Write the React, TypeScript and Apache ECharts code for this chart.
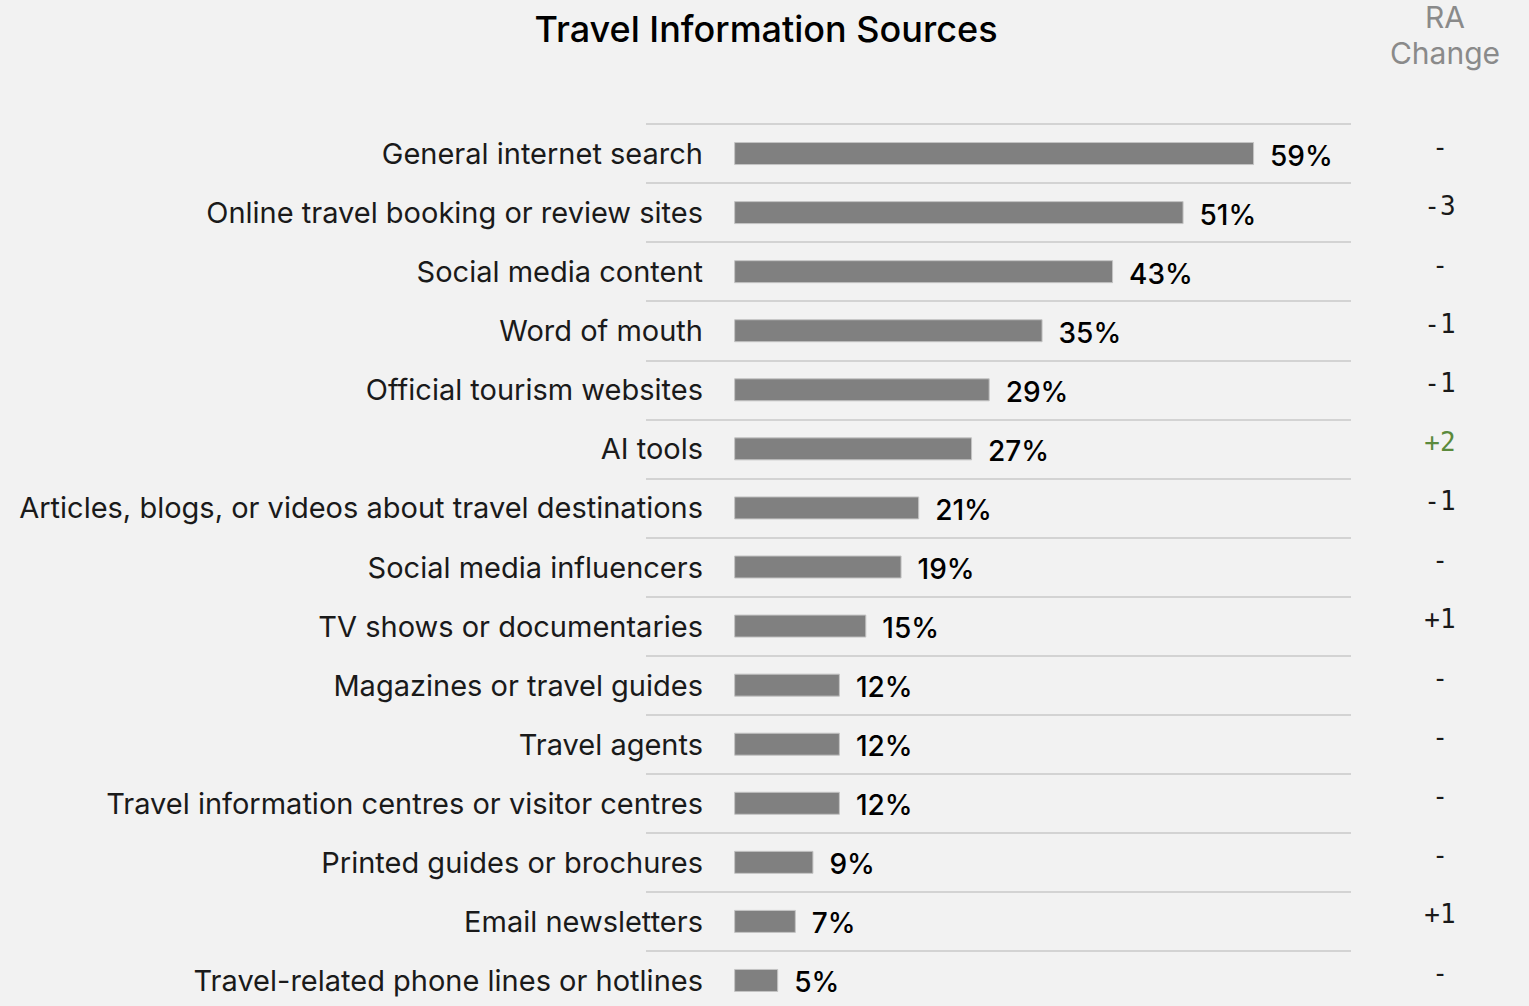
import React, { useEffect, useRef } from "react";
import * as echarts from "echarts";

const categories = [
  "General internet search",
  "Online travel booking or review sites",
  "Social media content",
  "Word of mouth",
  "Official tourism websites",
  "AI tools",
  "Articles, blogs, or videos about travel destinations",
  "Social media influencers",
  "TV shows or documentaries",
  "Magazines or travel guides",
  "Travel agents",
  "Travel information centres or visitor centres",
  "Printed guides or brochures",
  "Email newsletters",
  "Travel-related phone lines or hotlines",
];
const shares = [59, 51, 43, 35, 29, 27, 21, 19, 15, 12, 12, 12, 9, 7, 5];
const raChange = ["-", "-3", "-", "-1", "-1", "+2", "-1", "-", "+1", "-", "-", "-", "-", "+1", "-"];
const titleText = "Travel Information Sources";
const raHeader = "RA\nChange";

export default function App() {
  const ref = useRef<HTMLDivElement>(null);
  useEffect(() => {
    if (!ref.current) return;
    const chart = echarts.init(ref.current, undefined, { renderer: "svg" });
    const font = "Inter";
    chart.setOption({
      animation: false,
      backgroundColor: "#f2f2f2",
      title: [
        {
          text: titleText,
          left: 761,
          top: 6,
          textAlign: "center",
          textStyle: { fontFamily: font, fontSize: 36, fontWeight: 500, color: "#000" },
        },
        {
          text: raHeader,
          left: 1440,
          top: -6,
          textAlign: "center",
          textStyle: { fontFamily: font, fontSize: 30, fontWeight: 400, color: "#8a8a8a", lineHeight: 36 },
        },
      ],
      grid: { left: 646, top: 124, width: 705, height: 886, outerBoundsMode: "none", containLabel: false },
      xAxis: {
        type: "value",
        min: -10,
        max: 70,
        show: false,
        splitLine: { show: false },
      },
      yAxis: [
        {
          type: "category",
          data: categories,
          inverse: true,
          axisLine: { show: false, onZero: false },
          axisTick: { show: false },
          splitLine: { show: true, lineStyle: { color: "#d3d3d3", width: 2 } },
          axisLabel: {
            fontFamily: font,
            fontSize: 29,
            color: "#1a1a1a",
            margin: -57,
          },
        },
        {
          type: "category",
          data: raChange,
          inverse: true,
          position: "right",
          axisLine: { show: false, onZero: false },
          axisTick: { show: false },
          splitLine: { show: false },
          axisLabel: {
            fontFamily: "DejaVu Sans Mono",
            fontSize: 26,
            align: "center",
            margin: 89,
            verticalAlign: "bottom",
            lineHeight: 14,
            color: (v: string) => (v === "+2" ? "#5b8a3c" : "#1a1a1a"),
          },
        },
      ],
      series: [
        {
          type: "bar",
          data: shares,
          barWidth: 23,
          itemStyle: { color: "#808080", borderColor: "#c4c4c4", borderWidth: 1 },
          label: {
            show: true,
            position: "right",
            distance: 16,
            offset: [0, 2],
            formatter: "{c}%",
            fontFamily: font,
            fontSize: 28,
            fontWeight: 500,
            color: "#000",
          },
        },
      ],
    });
    return () => chart.dispose();
  }, []);
  return (
    <div
      ref={ref}
      style={{ position: "fixed", left: 0, top: 0, width: 1529, height: 1006 }}
    />
  );
}
